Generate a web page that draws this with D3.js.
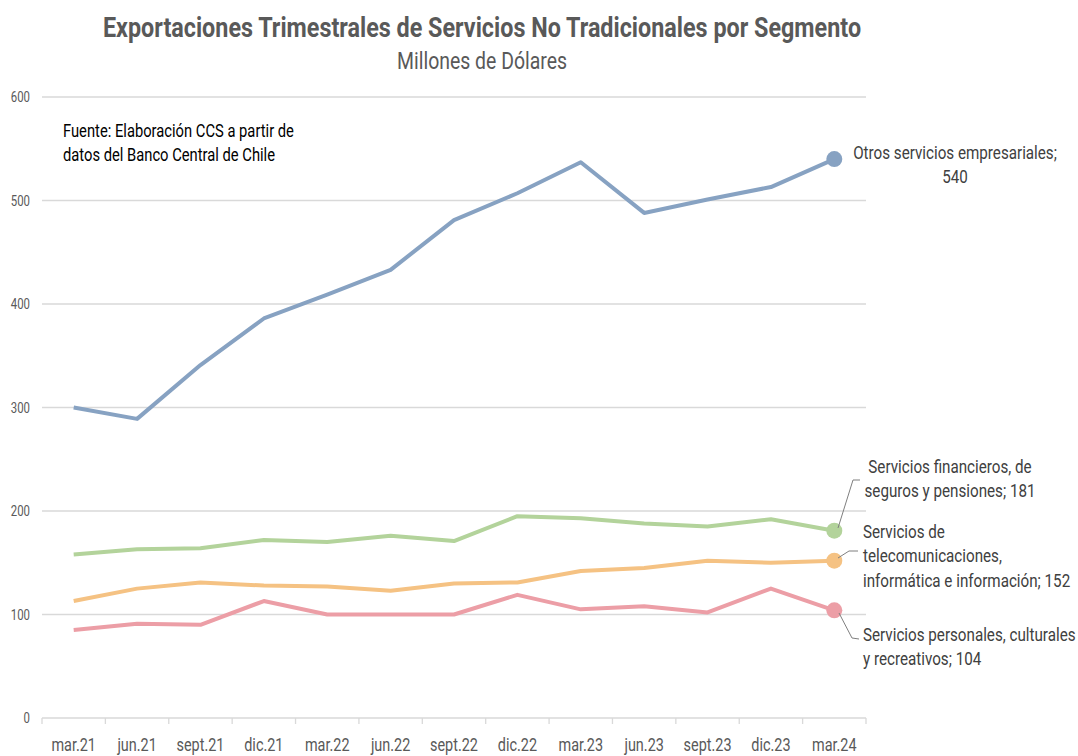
<!DOCTYPE html>
<html>
<head>
<meta charset="utf-8">
<script src="https://cdn.jsdelivr.net/npm/d3@7"></script>
<style>
  body, html { margin: 0; background: #fff; }
  svg text { font-family: Roboto, "Liberation Sans", sans-serif; }
</style>
</head>
<body>
<svg id="chart" width="1078" height="756"></svg>
<script>
var quarters = ['mar.21','jun.21','sept.21','dic.21','mar.22','jun.22','sept.22','dic.22','mar.23','jun.23','sept.23','dic.23','mar.24']
var otros = [300, 289, 341, 386, 409, 433, 481, 507, 537, 488, 501, 513, 540]
var financieros = [158, 163, 164, 172, 170, 176, 171, 195, 193, 188, 185, 192, 181]
var telecom = [113, 125, 131, 128, 127, 123, 130, 131, 142, 145, 152, 150, 152]
var personales = [85, 91, 90, 113, 100, 100, 100, 119, 105, 108, 102, 125, 104]
var yTicks = [0, 100, 200, 300, 400, 500, 600]

var series = [
  { name: 'otros', values: otros, color: '#87a2c2',
    label: ['Otros servicios empresariales;', '540'], anchor: 'middle', lx: 955, ly: 159 },
  { name: 'fin', values: financieros, color: '#b3d39b',
    label: ['Servicios financieros, de', 'seguros y pensiones; 181'], anchor: 'middle', lx: 950, ly: 473,
    leader: [[838, 528], [853, 480], [860, 480]] },
  { name: 'tel', values: telecom, color: '#f5c283',
    label: ['Servicios de', 'telecomunicaciones,', 'informática e información; 152'], anchor: 'start', lx: 863, ly: 538,
    leader: [[838, 558], [849, 551], [858, 551]] },
  { name: 'per', values: personales, color: '#ec9ea6',
    label: ['Servicios personales, culturales', 'y recreativos; 104'], anchor: 'start', lx: 863, ly: 641,
    leader: [[839, 613], [852, 638], [859, 639]] }
]

var svg = d3.select('#chart')
var left = 42, right = 866, plotTop = 97, plotBottom = 718

var x = d3.scaleBand().domain(quarters).range([left, right])
var y = d3.scaleLinear().domain([0, 600]).range([plotBottom, plotTop])

// text block squeezed horizontally around its anchor point (the original uses a condensed face)
function squeezed(parent, px, py, lines, anchor, size, fill, lh, sx, weight) {
  var t = parent.append('g').attr('transform', 'translate(' + px + ',' + py + ') scale(' + sx + ',1)')
    .append('text').attr('text-anchor', anchor).attr('font-size', size).attr('fill', fill)
    .attr('font-weight', weight || 'normal')
  t.selectAll('tspan').data(lines).enter().append('tspan')
    .attr('x', 0).attr('dy', function(d, i){ return i ? lh : 0 }).text(function(d){ return d })
  return t
}

// titles
squeezed(svg, 482, 37, ['Exportaciones Trimestrales de Servicios No Tradicionales por Segmento'], 'middle', 27, '#595959', 0, 0.865, 'bold')
squeezed(svg, 482, 69, ['Millones de Dólares'], 'middle', 23, '#595959', 0, 0.845)

// gridlines
svg.append('g').selectAll('line').data(yTicks.filter(function(d){ return d > 0 })).enter().append('line')
  .attr('x1', left).attr('x2', right)
  .attr('y1', function(d){ return y(d) }).attr('y2', function(d){ return y(d) })
  .attr('stroke', '#d9d9d9').attr('stroke-width', 1.3)

// y axis labels
yTicks.forEach(function(d){
  squeezed(svg, 30, y(d) + 5, [d], 'end', 15, '#595959', 0, 0.76)
})

// x axis
var xAxis = svg.append('g').attr('transform', 'translate(0,' + plotBottom + ')')
xAxis.append('line').attr('x1', left).attr('x2', right).attr('stroke', '#d9d9d9').attr('stroke-width', 1.3)
xAxis.selectAll('line.tick').data(quarters.concat(['end'])).enter().append('line')
  .attr('class', 'tick')
  .attr('x1', function(d, i){ return left + i * x.bandwidth() })
  .attr('x2', function(d, i){ return left + i * x.bandwidth() })
  .attr('y1', 0).attr('y2', 6).attr('stroke', '#d9d9d9').attr('stroke-width', 1.3)
quarters.forEach(function(d){
  squeezed(xAxis, x(d) + x.bandwidth() / 2, 33, [d], 'middle', 19, '#595959', 0, 0.76)
})

// source note
squeezed(svg, 63, 137, ['Fuente: Elaboración CCS a partir de', 'datos del Banco Central de Chile'], 'start', 18, '#000', 24, 0.82)

// lines
var line = d3.line()
  .x(function(d, i){ return x(quarters[i]) + x.bandwidth() / 2 })
  .y(function(d){ return y(d) })

series.forEach(function(s){
  svg.append('path').datum(s.values).attr('d', line)
    .attr('fill', 'none').attr('stroke', s.color).attr('stroke-width', 4)
    .attr('stroke-linejoin', 'round')
  var last = s.values.length - 1
  svg.append('circle')
    .attr('cx', x(quarters[last]) + x.bandwidth() / 2).attr('cy', y(s.values[last]))
    .attr('r', 8).attr('fill', s.color)
  if (s.leader) {
    svg.append('path').attr('d', d3.line()(s.leader))
      .attr('fill', 'none').attr('stroke', '#7f7f7f').attr('stroke-width', 1)
  }
  squeezed(svg, s.lx, s.ly, s.label, s.anchor, 19, '#404040', 24.5, 0.8)
})
</script>
</body>
</html>
